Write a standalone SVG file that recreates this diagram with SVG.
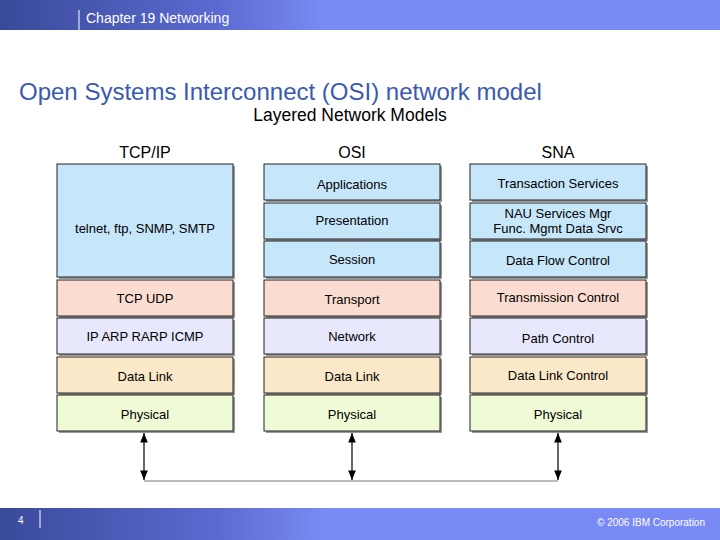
<svg xmlns="http://www.w3.org/2000/svg" width="720" height="540" viewBox="0 0 720 540">
<defs>
<linearGradient id="hg" x1="0" x2="1" y1="0" y2="0"><stop offset="0" stop-color="#3a4a9a"/><stop offset="0.3" stop-color="#5a6ad0"/><stop offset="0.45" stop-color="#7a8af4"/><stop offset="1" stop-color="#7a8af4"/></linearGradient>
<marker id="ah" viewBox="0 0 10 10" refX="10" refY="5" markerWidth="12" markerHeight="8" orient="auto-start-reverse"><path d="M0,1 L10,5 L0,9 z" fill="#000"/></marker>
</defs>
<style>
text{font-family:"Liberation Sans",Arial,sans-serif;fill:#000}
.b{stroke:#222;stroke-width:1}
.lbl{font-size:13px;text-anchor:middle}
.hd{font-size:16px;text-anchor:middle}
.sh{fill:#999}
.bl{fill:#c6e6fa}.pe{fill:#fbdcd0}.la{fill:#e8e8fc}.ta{fill:#fbe8c8}.gr{fill:#effbd6}
</style>
<rect width="720" height="540" fill="#fff"/>
<rect x="0" y="0" width="720" height="30" fill="url(#hg)"/>
<line x1="79" y1="10" x2="79" y2="30" stroke="#fff"/>
<text x="86" y="23" font-size="14" style="fill:#fff">Chapter 19 Networking</text>
<rect x="0" y="508" width="720" height="32" fill="url(#hg)"/>
<line x1="40" y1="510" x2="40" y2="528" stroke="#fff"/>
<text x="18" y="524" font-size="10" style="fill:#fff">4</text>
<text x="705" y="526" font-size="10" text-anchor="end" style="fill:#fff">© 2006 IBM Corporation</text>
<text x="19" y="100" font-size="24" style="fill:#3a5ab0">Open Systems Interconnect (OSI) network model</text>
<text x="350" y="121" font-size="17.5" text-anchor="middle">Layered Network Models</text>
<text x="145" y="158" class="hd">TCP/IP</text>
<text x="352" y="158" class="hd">OSI</text>
<text x="558" y="158" class="hd">SNA</text>
<g id="tcp-app"><rect x="59" y="166" width="176" height="113" class="sh"/><rect x="57" y="164" width="176" height="113" class="bl b"/><text x="145" y="233" class="lbl">telnet, ftp, SNMP, SMTP</text></g>
<g id="tcp-tr"><rect x="59" y="282" width="176" height="36" class="sh"/><rect x="57" y="280" width="176" height="36" class="pe b"/><text x="145" y="303" class="lbl">TCP UDP</text></g>
<g id="tcp-net"><rect x="59" y="320" width="176" height="36" class="sh"/><rect x="57" y="318" width="176" height="36" class="la b"/><text x="145" y="341" class="lbl">IP ARP RARP ICMP</text></g>
<g id="tcp-dl"><rect x="59" y="359" width="176" height="36" class="sh"/><rect x="57" y="357" width="176" height="36" class="ta b"/><text x="145" y="381" class="lbl">Data Link</text></g>
<g id="tcp-ph"><rect x="59" y="397" width="176" height="36" class="sh"/><rect x="57" y="395" width="176" height="36" class="gr b"/><text x="145" y="419" class="lbl">Physical</text></g>
<g id="osi-app"><rect x="266" y="166" width="176" height="36" class="sh"/><rect x="264" y="164" width="176" height="36" class="bl b"/><text x="352" y="189" class="lbl">Applications</text></g>
<g id="osi-pres"><rect x="266" y="205" width="176" height="36" class="sh"/><rect x="264" y="203" width="176" height="36" class="bl b"/><text x="352" y="225" class="lbl">Presentation</text></g>
<g id="osi-ses"><rect x="266" y="243" width="176" height="36" class="sh"/><rect x="264" y="241" width="176" height="36" class="bl b"/><text x="352" y="264" class="lbl">Session</text></g>
<g id="osi-tr"><rect x="266" y="282" width="176" height="36" class="sh"/><rect x="264" y="280" width="176" height="36" class="pe b"/><text x="352" y="304" class="lbl">Transport</text></g>
<g id="osi-net"><rect x="266" y="320" width="176" height="36" class="sh"/><rect x="264" y="318" width="176" height="36" class="la b"/><text x="352" y="341" class="lbl">Network</text></g>
<g id="osi-dl"><rect x="266" y="359" width="176" height="36" class="sh"/><rect x="264" y="357" width="176" height="36" class="ta b"/><text x="352" y="381" class="lbl">Data Link</text></g>
<g id="osi-ph"><rect x="266" y="397" width="176" height="36" class="sh"/><rect x="264" y="395" width="176" height="36" class="gr b"/><text x="352" y="419" class="lbl">Physical</text></g>
<g id="sna-ts"><rect x="472" y="166" width="176" height="36" class="sh"/><rect x="470" y="164" width="176" height="36" class="bl b"/><text x="558" y="188" class="lbl">Transaction Services</text></g>
<g id="sna-nau"><rect x="472" y="205" width="176" height="36" class="sh"/><rect x="470" y="203" width="176" height="36" class="bl b"/><text x="558" y="218" class="lbl">NAU Services Mgr</text><text x="558" y="233" class="lbl">Func. Mgmt Data Srvc</text></g>
<g id="sna-dfc"><rect x="472" y="243" width="176" height="36" class="sh"/><rect x="470" y="241" width="176" height="36" class="bl b"/><text x="558" y="265" class="lbl">Data Flow Control</text></g>
<g id="sna-tc"><rect x="472" y="282" width="176" height="36" class="sh"/><rect x="470" y="280" width="176" height="36" class="pe b"/><text x="558" y="302" class="lbl">Transmission Control</text></g>
<g id="sna-pc"><rect x="472" y="320" width="176" height="36" class="sh"/><rect x="470" y="318" width="176" height="36" class="la b"/><text x="558" y="343" class="lbl">Path Control</text></g>
<g id="sna-dlc"><rect x="472" y="359" width="176" height="36" class="sh"/><rect x="470" y="357" width="176" height="36" class="ta b"/><text x="558" y="380" class="lbl">Data Link Control</text></g>
<g id="sna-ph"><rect x="472" y="397" width="176" height="36" class="sh"/><rect x="470" y="395" width="176" height="36" class="gr b"/><text x="558" y="419" class="lbl">Physical</text></g>
<g id="connectors" stroke="#000" fill="none" stroke-width="1.2">
<line x1="144" y1="433" x2="144" y2="480" marker-start="url(#ah)" marker-end="url(#ah)"/>
<line x1="352" y1="433" x2="352" y2="480" marker-start="url(#ah)" marker-end="url(#ah)"/>
<line x1="558" y1="433" x2="558" y2="480" marker-start="url(#ah)" marker-end="url(#ah)"/>
<line x1="144" y1="481" x2="558" y2="481" stroke="#777" stroke-width="1"/>
</g>
</svg>
